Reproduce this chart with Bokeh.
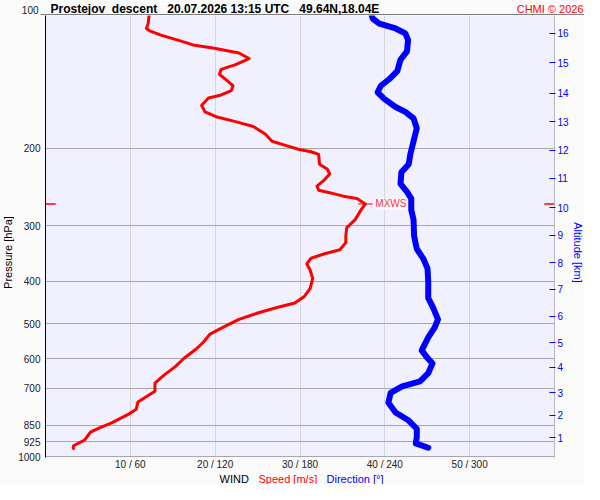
import numpy as np
from bokeh.plotting import figure
from bokeh.layouts import column, row
from bokeh.models import (Range1d, FixedTicker, CustomJSTickFormatter, LogAxis, Label)
from bokeh.embed import file_html
from bokeh.resources import INLINE

# ---------------- data ----------------
speed_pressure = [100.0, 104.3, 107.0, 108.4, 110.8, 113.6, 116.6, 118.6, 121.6, 125.2,
                  129.2, 132.5, 135.9, 140.0, 144.3, 148.1, 151.9, 153.9, 159.9, 165.4,
                  169.6, 174.0, 178.5, 185.7, 192.8, 196.8, 201.3, 203.7, 206.5, 217.3,
                  222.9, 228.7, 236.6, 243.6, 249.0, 252.5, 256.8, 260.0, 267.5, 275.9,
                  290.3, 303.1, 316.2, 327.3, 339.7, 347.3, 355.2, 365.5, 378.2, 394.6,
                  415.4, 433.7, 448.6, 458.8, 472.1, 488.6, 514.2, 527.6, 550.5, 569.6,
                  599.5, 625.5, 653.0, 681.3, 710.9, 727.1, 751.9, 781.0, 801.3, 838.9,
                  862.0, 879.8, 918.1, 945.3, 958.5]
speed_ms = [12.2, 12.1, 11.9, 12.3, 13.6, 15.5, 17.4, 19.9, 22.8, 24.0,
            22.4, 20.7, 20.5, 21.3, 22.1, 21.9, 20.5, 19.2, 18.4, 18.8,
            20.1, 22.4, 24.5, 25.9, 26.7, 28.2, 29.9, 31.3, 32.2, 32.3,
            33.2, 33.5, 32.8, 32.0, 32.2, 33.6, 35.1, 36.7, 37.7, 37.2,
            36.5, 35.5, 35.4, 35.4, 34.7, 32.8, 31.3, 30.8, 31.2, 31.5,
            31.2, 30.5, 29.4, 27.4, 25.1, 22.8, 20.5, 19.4, 18.6, 17.8,
            16.3, 15.3, 14.0, 12.9, 12.9, 12.1, 10.9, 10.7, 9.8, 7.8,
            6.3, 5.3, 4.6, 3.3, 3.3]

dir_pressure = [100.0, 101.7, 104.3, 107.0, 109.8, 113.6, 120.6, 125.9, 133.7, 139.5,
                144.3, 149.3, 154.5, 161.2, 165.4, 171.1, 180.1, 192.7, 206.5, 217.3,
                226.8, 240.8, 251.2, 260.0, 275.9, 290.3, 316.2, 338.4, 356.3, 375.0,
                401.6, 437.0, 460.2, 488.6, 509.7, 536.6, 574.5, 594.3, 614.9, 647.3,
                675.5, 693.0, 717.1, 754.8, 794.3, 828.7, 865.0, 902.7, 933.9, 955.0]
direction_deg = [230.8, 231.5, 236.1, 247.6, 254.5, 256.4, 255.7, 251.1, 248.8, 243.0,
                 237.2, 234.9, 239.6, 247.6, 254.5, 260.3, 262.6, 260.3, 258.0, 256.9,
                 251.7, 251.1, 255.7, 258.7, 258.7, 260.3, 260.7, 262.6, 267.3, 270.2,
                 270.7, 270.7, 274.2, 277.6, 275.3, 270.7, 266.1, 269.5, 273.7, 270.7,
                 264.9, 252.2, 244.1, 242.5, 247.6, 256.9, 262.6, 262.6, 261.9, 270.7]

top_pressure_label = "100"
pressure_ticks = [200, 300, 400, 500, 600, 700, 850, 925, 1000]
speed_ticks = [10, 20, 30, 40, 50]
alt_pressures = [906.1, 805.4, 717.1, 627.9, 552.3, 480.3, 417.5, 363.7,
                 314.6, 272.6, 233.8, 201.9, 174.0, 150.1, 128.0, 109.8]
alt_labels = ["1", "2", "3", "4", "5", "6", "7", "8",
              "9", "10", "11", "12", "13", "14", "15", "16"]

title_text = ("Prostejov\u00a0 descent\u00a0\u00a0 20.07.2026 13:15 UTC"
              "\u00a0\u00a0 49.64N,18.04E")
credit_text = "CHMI \u00a9 2026"
pressure_title = "Pressure [hPa]"
altitude_title = "Altitude [km]"
wind_parts = [("WIND", "black"), ("Speed [m/s]", "#FF0000"), ("Direction [\u00b0]", "#0000FF")]

SPEED_MAX = 60
DEG_PER_MS = 6
P_TOP, P_BOTTOM = 100, 1005
FONT = "Liberation Sans"
RED = "#FF0000"
BLUE = "#0000FF"
PAGE_BG = "#FAFAFA"
W = 584
TOP_H, MAIN_H, BOT_H = 15, 457, 12
LSTRIP_W, RSTRIP_W = 14, 13
MAIN_W = W - LSTRIP_W - RSTRIP_W
LEFT_B, RIGHT_B, BOTTOM_B = 31, 16, 13
SIDE_TITLE_Y = 237  # px from the top of the main chart


def no_align(fig):
    try:
        fig.frame_align = False
    except AttributeError:
        pass


def strip(width, height):
    s = figure(width=width, height=height, output_backend="svg", toolbar_location=None,
               x_range=Range1d(0, width), y_range=Range1d(height, 0),
               x_axis_location=None, y_axis_location=None,
               min_border=0, min_border_left=0, min_border_right=0,
               min_border_top=0, min_border_bottom=0)
    s.grid.visible = False
    s.outline_line_color = None
    s.background_fill_color = PAGE_BG
    s.border_fill_color = PAGE_BG
    no_align(s)
    return s


# ---------------- top strip: title ----------------
top = strip(W, TOP_H)
top.segment(x0=[40], y0=[TOP_H - 0.5], x1=[W], y1=[TOP_H - 0.5], line_color="black", line_width=1)
top.add_layout(Label(x=50, y=8.4, text=title_text, text_font=FONT, text_font_size="12px",
                     text_font_style="bold", text_color="black",
                     text_baseline="middle", text_align="left"))
top.add_layout(Label(x=W - 1, y=8.4, text=credit_text, text_font=FONT, text_font_size="11px",
                     text_color=RED, text_baseline="middle", text_align="right"))
top.add_layout(Label(x=38, y=9.5, text=top_pressure_label, text_font=FONT,
                     text_font_size="10px", text_color="#222222",
                     text_baseline="middle", text_align="right"))

# ---------------- side strips: axis titles ----------------
lstrip = strip(LSTRIP_W, MAIN_H)
lstrip.add_layout(Label(x=LSTRIP_W / 2, y=SIDE_TITLE_Y, text=pressure_title, angle=np.pi / 2,
                        text_font=FONT, text_font_size="11px", text_color="black",
                        text_align="center", text_baseline="middle"))
rstrip = strip(RSTRIP_W, MAIN_H)
rstrip.add_layout(Label(x=RSTRIP_W / 2, y=SIDE_TITLE_Y, text=altitude_title, angle=-np.pi / 2,
                        text_font=FONT, text_font_size="11px", text_color=BLUE,
                        text_align="center", text_baseline="middle"))

# ---------------- main chart ----------------
p = figure(width=MAIN_W, height=MAIN_H, output_backend="svg", toolbar_location=None,
           y_axis_type="log",
           x_range=Range1d(0, SPEED_MAX), y_range=Range1d(P_BOTTOM, P_TOP),
           min_border_left=LEFT_B, min_border_right=RIGHT_B,
           min_border_top=0, min_border_bottom=BOTTOM_B)
no_align(p)
p.extra_x_ranges = {"dir": Range1d(0, SPEED_MAX * DEG_PER_MS)}
p.background_fill_color = "#F0F0FF"
p.border_fill_color = PAGE_BG
p.outline_line_color = None

p.xgrid.ticker = FixedTicker(ticks=speed_ticks)
p.xgrid.grid_line_color = "#D6D6DC"
p.ygrid.ticker = FixedTicker(ticks=pressure_ticks)
p.ygrid.grid_line_color = "#A8A8A8"

ya = p.yaxis[0]
ya.ticker = FixedTicker(ticks=pressure_ticks)
ya.formatter = CustomJSTickFormatter(code="return Math.round(tick).toString();")
ya.major_tick_line_color = None
ya.minor_tick_line_color = None
ya.major_tick_in = 0
ya.major_tick_out = 0
ya.minor_tick_in = 0
ya.minor_tick_out = 0
ya.axis_line_color = "black"
ya.major_label_text_font = FONT
ya.major_label_text_font_size = "10px"
ya.major_label_text_color = "#222222"
ya.major_label_standoff = 5

xa = p.xaxis[0]
xa.ticker = FixedTicker(ticks=speed_ticks)
xa.formatter = CustomJSTickFormatter(args=dict(f=DEG_PER_MS),
                                     code="return tick + ' / ' + Math.round(tick * f);")
xa.axis_line_color = None
xa.major_tick_line_color = None
xa.minor_tick_line_color = None
xa.major_tick_in = 0
xa.major_tick_out = 0
xa.minor_tick_in = 0
xa.minor_tick_out = 0
xa.major_label_text_font = FONT
xa.major_label_text_font_size = "10px"
xa.major_label_text_color = "#222222"
xa.major_label_standoff = 1

ra = LogAxis(ticker=FixedTicker(ticks=alt_pressures),
             formatter=CustomJSTickFormatter(
                 args=dict(pres=alt_pressures, labs=alt_labels),
                 code="for (let i = 0; i < pres.length; i++) {"
                      " if (Math.abs(pres[i] - tick) < 1e-6) return labs[i]; }"
                      " return '';"))
ra.axis_line_color = "#B8B8C0"
ra.major_tick_line_color = BLUE
ra.major_tick_in = 5
ra.major_tick_out = 1
ra.minor_tick_line_color = None
ra.minor_tick_in = 0
ra.minor_tick_out = 0
ra.major_label_text_font = FONT
ra.major_label_text_font_size = "10px"
ra.major_label_text_color = BLUE
ra.major_label_standoff = 2
p.add_layout(ra, "right")

p.line(direction_deg, dir_pressure, x_range_name="dir", line_color=BLUE,
       line_width=6, line_join="round", line_cap="round")
p.line(speed_ms, speed_pressure, line_color=RED, line_width=3,
       line_join="round", line_cap="round")

imax = int(np.argmax(speed_ms))
s_max = speed_ms[imax]
p_max = speed_pressure[imax]
p.segment(x0=[s_max - 0.85], y0=[p_max], x1=[s_max + 0.85], y1=[p_max],
          line_color=RED, line_width=1)
p.segment(x0=[0, SPEED_MAX - 1.2], y0=[p_max, p_max],
          x1=[1.2, SPEED_MAX], y1=[p_max, p_max], line_color=RED, line_width=1.5)
p.add_layout(Label(x=s_max, y=p_max, x_offset=10, text="MXWS",
                   text_font=FONT, text_font_size="10px", text_color="#FF3030",
                   text_baseline="middle", text_align="left",
                   background_fill_color="white", background_fill_alpha=0.85))

# ---------------- bottom strip: axis title ----------------
bot = strip(W, BOT_H)
frame_left = LSTRIP_W + LEFT_B
frame_right = LSTRIP_W + MAIN_W - RIGHT_B
frame_mid = (frame_left + frame_right) / 2
x_left = [frame_mid - 81, frame_mid - 42, frame_mid + 26]
for (txt, col), xl in zip(wind_parts, x_left):
    bot.add_layout(Label(x=xl, y=BOT_H / 2, text=txt, text_font=FONT,
                         text_font_size="11px", text_color=col,
                         text_baseline="middle", text_align="left"))

layout = column(top, row(lstrip, p, rstrip, spacing=0), bot, spacing=0)
open("out.html", "w").write(file_html(layout, INLINE))
